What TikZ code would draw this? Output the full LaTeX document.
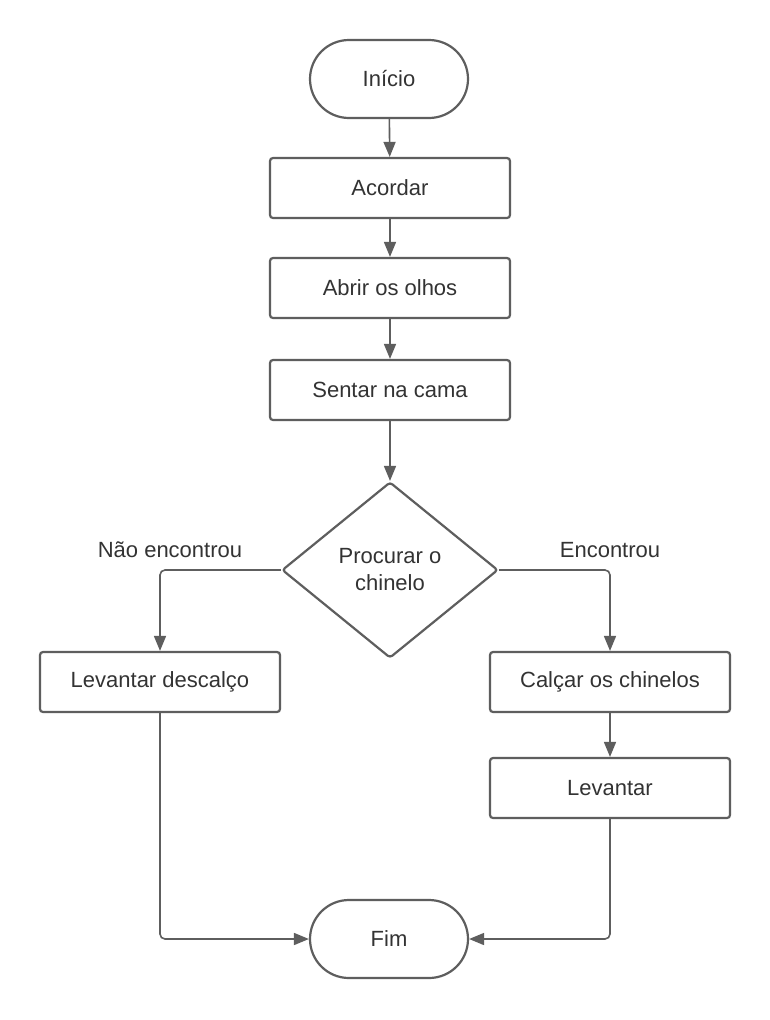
\documentclass[tikz,border=0pt]{standalone}
\usepackage{fontspec}
\setmainfont{Liberation Sans}
\usepackage{xcolor}
\usetikzlibrary{arrows, arrows.meta, shapes.geometric}
\definecolor{linegray}{HTML}{5E5E5E}
\definecolor{textgray}{HTML}{333333}

\begin{document}
\begin{tikzpicture}[x=1pt,y=-1pt,
  font=\fontsize{22}{27}\selectfont, text=textgray,
  terminal/.style={draw=linegray,line width=2.2pt,rounded corners=39pt,minimum width=158pt,minimum height=78pt,inner sep=0pt},
  process/.style={draw=linegray,line width=2.2pt,rounded corners=3pt,minimum width=240pt,minimum height=60pt,inner sep=0pt},
  decision/.style={draw=linegray,line width=2.2pt,rounded corners=3pt,diamond,aspect=1.227,minimum width=216pt,minimum height=176pt,inner sep=0pt,align=center},
  flow/.style={draw=linegray,line width=1.6pt,rounded corners=5pt,-{Triangle[length=15pt,width=12pt]}}]
\useasboundingbox[fill=white] (0,0) rectangle (770,1020);
\node[terminal] (inicio) at (389,79) {Início};
\node[process] (acordar) at (390,188) {Acordar};
\node[process] (abrir) at (390,288) {Abrir os olhos};
\node[process] (sentar) at (390,390) {Sentar na cama};
\node[decision] (procurar) at (390,570) {Procurar o\\chinelo};
\node[process] (descalco) at (160,682) {Levantar descalço};
\node[process] (calcar) at (610,682) {Calçar os chinelos};
\node[process] (levantar) at (610,788) {Levantar};
\node[terminal] (fim) at (389,939) {Fim};
\node[] (naoenc) at (170,550) {Não encontrou};
\node[] (enc) at (610,550) {Encontrou};
\draw[flow] (inicio) -- (acordar);
\draw[flow] (acordar) -- (abrir);
\draw[flow] (abrir) -- (sentar);
\draw[flow] (sentar) -- (procurar);
\draw[flow] (procurar.west) -| (descalco.north);
\draw[flow] (procurar.east) -| (calcar.north);
\draw[flow] (calcar) -- (levantar);
\draw[flow] (descalco.south) |- (fim.west);
\draw[flow] (levantar.south) |- (fim.east);
\end{tikzpicture}
\end{document}
